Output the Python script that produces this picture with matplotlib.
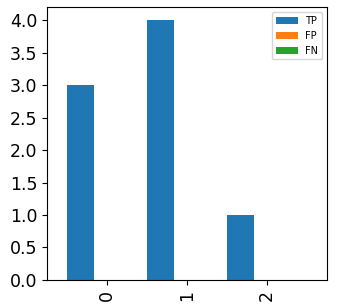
import matplotlib
matplotlib.use("Agg")
import matplotlib.pyplot as plt
import numpy as np

categories = ["0", "1", "2"]
series_names = ["TP", "FP", "FN"]
tp = [3, 4, 1]
fp = [0, 0, 0]
fn = [0, 0, 0]
colors = ["#1f77b4", "#ff7f0e", "#2ca02c"]

fig, ax = plt.subplots(figsize=(3.44, 3.08), dpi=100)
fig.subplots_adjust(left=0.137, right=0.951, top=0.977, bottom=0.091)

x = np.arange(len(categories))
width = 1.0 / len(series_names)
for i, (name, vals) in enumerate(zip(series_names, [tp, fp, fn])):
    ax.bar(x + (i - 1) * width, vals, width, label=name, color=colors[i])

ax.set_xticks(x)
ax.set_xticklabels(categories, rotation=90)
ax.set_xlim(-0.75, 2.75)
ax.set_ylim(0, 4.2)
ax.set_yticks(np.arange(0, 4.01, 0.5))
ax.tick_params(labelsize=12.5)
ax.legend(fontsize=7, handlelength=2.2)

fig.savefig("out.png")
